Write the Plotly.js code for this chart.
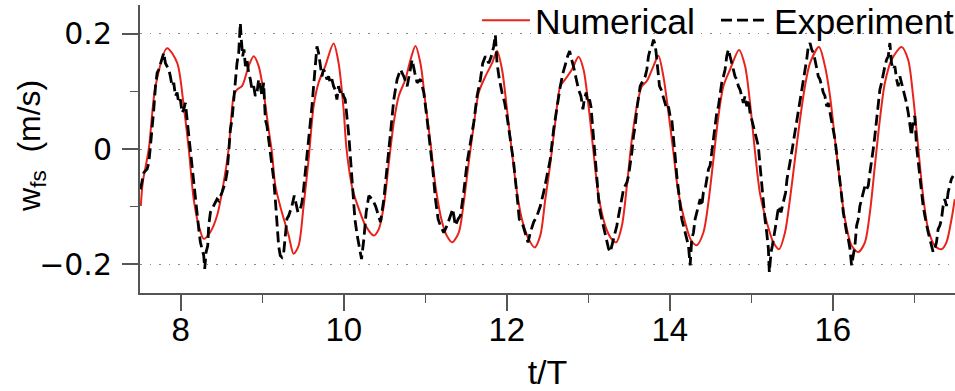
<!DOCTYPE html>
<html>
<head>
<meta charset="utf-8">
<script src="https://cdn.plot.ly/plotly-3.0.1.min.js"></script>
<style>html,body{margin:0;padding:0;background:#fff;}#chart{width:955px;height:391px;}</style>
</head>
<body>
<div id="chart"></div>
<script>
// Numerical solution (red)
const numT = [7.510,7.534,7.608,7.690,7.832,7.955,8.037,8.098,8.159,8.221,
8.282,8.364,8.445,8.527,8.588,8.650,8.690,8.751,8.833,8.895,
8.956,9.017,9.078,9.119,9.161,9.241,9.324,9.385,9.446,9.507,
9.569,9.630,9.691,9.773,9.875,9.936,9.998,10.034,10.108,10.185,
10.267,10.369,10.430,10.491,10.553,10.614,10.675,10.757,10.819,10.880,
10.941,11.002,11.064,11.125,11.207,11.270,11.330,11.411,11.472,11.533,11.594,
11.656,11.738,11.820,11.881,11.942,12.003,12.064,12.125,12.186,12.268,
12.342,12.412,12.473,12.534,12.596,12.657,12.718,12.800,12.881,12.942,
13.004,13.065,13.126,13.208,13.280,13.343,13.413,13.474,13.535,13.596,13.657,
13.719,13.800,13.861,13.922,13.984,14.045,14.105,14.188,14.260,14.332,14.413,
14.474,14.536,14.597,14.658,14.740,14.850,14.924,14.985,15.047,15.108,
15.190,15.271,15.341,15.414,15.475,15.536,15.598,15.659,15.721,15.831,
15.904,15.966,16.027,16.088,16.150,16.232,16.312,16.395,16.456,16.517,
16.578,16.640,16.722,16.844,16.925,16.986,17.047,17.108,17.170,17.252,
17.334,17.395,17.457,17.497];
const numW = [-0.099,-0.058,0.000,0.109,0.175,0.150,0.074,0.000,-0.087,-0.133,
-0.156,-0.144,-0.116,-0.058,0.000,0.092,0.103,0.109,0.144,0.161,
0.144,0.098,0.034,-0.006,-0.064,-0.110,-0.150,-0.182,-0.168,-0.099,
-0.018,0.074,0.115,0.144,0.183,0.150,0.069,0.000,-0.070,-0.104,
-0.133,-0.150,-0.139,-0.099,-0.024,0.046,0.092,0.121,0.155,0.179,
0.149,0.080,0.011,-0.064,-0.127,-0.152,-0.162,-0.145,-0.093,-0.024,0.040,
0.098,0.126,0.149,0.170,0.138,0.069,-0.006,-0.075,-0.122,-0.156,
-0.171,-0.150,-0.087,-0.026,0.048,0.109,0.121,0.138,0.160,0.138,
0.074,-0.006,-0.081,-0.133,-0.155,-0.162,-0.133,-0.064,0.017,0.074,0.109,
0.118,0.144,0.162,0.126,0.063,-0.006,-0.075,-0.127,-0.158,-0.167,-0.145,
-0.093,-0.018,0.057,0.109,0.138,0.172,0.144,0.080,-0.006,-0.078,
-0.127,-0.162,-0.174,-0.145,-0.087,-0.018,0.051,0.109,0.149,0.177,
0.144,0.092,0.017,-0.058,-0.122,-0.168,-0.179,-0.162,-0.110,-0.029,
0.051,0.115,0.155,0.177,0.155,0.092,0.005,-0.081,-0.139,-0.168,
-0.174,-0.162,-0.122,-0.087];

// Experiment (black dashed)
const expT = [7.506,7.547,7.587,7.608,7.628,7.649,7.669,7.690,7.710,7.730,
7.751,7.771,7.792,7.812,7.833,7.853,7.873,7.894,7.914,7.935,
7.955,7.975,7.996,8.016,8.037,8.057,8.078,8.098,8.119,8.139,
8.159,8.180,8.200,8.221,8.241,8.262,8.282,8.294,8.311,8.331,
8.343,8.364,8.384,8.405,8.425,8.445,8.466,8.486,8.507,8.547,
8.568,8.588,8.609,8.629,8.650,8.670,8.690,8.711,8.731,8.743,
8.760,8.776,8.793,8.813,8.833,8.854,8.874,8.895,8.915,8.936,
8.956,8.976,8.997,9.017,9.038,9.058,9.079,9.099,9.119,9.140,
9.160,9.181,9.201,9.221,9.242,9.262,9.283,9.303,9.324,9.364,
9.393,9.413,9.438,9.467,9.487,9.507,9.528,9.548,9.569,9.589,
9.610,9.630,9.650,9.671,9.691,9.712,9.732,9.753,9.773,9.793,
9.814,9.834,9.855,9.875,9.895,9.916,9.936,9.957,9.977,9.998,
10.018,10.063,10.104,10.137,10.165,10.194,10.218,10.247,10.275,10.308,
10.349,10.390,10.431,10.451,10.492,10.533,10.574,10.614,10.655,10.696,
10.737,10.778,10.819,10.839,10.872,10.900,10.941,10.982,11.023,11.064,
11.092,11.125,11.158,11.186,11.227,11.268,11.309,11.337,11.370,11.403,
11.431,11.472,11.513,11.554,11.595,11.636,11.677,11.705,11.738,11.779,
11.811,11.840,11.860,11.881,11.909,11.942,11.975,12.003,12.044,12.085,
12.126,12.154,12.187,12.228,12.261,12.289,12.330,12.371,12.412,12.453,
12.493,12.534,12.575,12.616,12.657,12.690,12.718,12.747,12.771,12.788,
12.812,12.828,12.853,12.882,12.910,12.935,12.951,12.975,12.992,13.016,
13.033,13.057,13.074,13.098,13.127,13.147,13.167,13.188,13.208,13.229,
13.249,13.270,13.290,13.310,13.331,13.351,13.372,13.392,13.413,13.433,
13.453,13.474,13.494,13.515,13.535,13.556,13.576,13.596,13.617,13.637,
13.658,13.678,13.699,13.719,13.739,13.760,13.780,13.801,13.821,13.833,
13.850,13.874,13.895,13.915,13.944,13.964,13.984,14.005,14.025,14.046,
14.066,14.087,14.107,14.127,14.148,14.168,14.189,14.209,14.230,14.250,
14.270,14.291,14.311,14.332,14.352,14.373,14.393,14.413,14.434,14.454,
14.475,14.495,14.516,14.536,14.556,14.577,14.597,14.618,14.638,14.659,
14.679,14.699,14.720,14.740,14.761,14.781,14.801,14.822,14.842,14.863,
14.883,14.903,14.924,14.944,14.965,14.985,15.006,15.026,15.047,15.067,
15.087,15.108,15.128,15.149,15.169,15.190,15.210,15.222,15.243,15.259,
15.284,15.300,15.324,15.341,15.365,15.382,15.406,15.422,15.439,15.455,
15.476,15.496,15.516,15.537,15.557,15.578,15.598,15.619,15.639,15.659,
15.680,15.700,15.721,15.741,15.761,15.782,15.802,15.823,15.843,15.864,
15.884,15.904,15.925,15.945,15.966,15.986,16.007,16.027,16.047,16.068,
16.088,16.109,16.129,16.150,16.170,16.190,16.211,16.231,16.252,16.272,
16.293,16.313,16.333,16.354,16.374,16.395,16.415,16.436,16.456,16.476,
16.497,16.517,16.538,16.558,16.578,16.599,16.619,16.640,16.660,16.681,
16.701,16.721,16.742,16.762,16.783,16.803,16.824,16.844,16.864,16.885,
16.905,16.926,16.946,16.966,16.987,17.007,17.028,17.048,17.069,17.089,
17.109,17.130,17.150,17.171,17.191,17.212,17.232,17.252,17.273,17.293,
17.314,17.334,17.354,17.375,17.395,17.416,17.436,17.456,17.477];
const expW = [-0.070,-0.041,-0.035,-0.024,0.005,0.034,0.069,0.109,0.132,0.138,
0.149,0.155,0.167,0.149,0.144,0.138,0.126,0.109,0.115,0.092,
0.098,0.080,0.086,0.063,0.069,0.080,0.051,0.023,0.000,-0.029,
-0.052,-0.087,-0.116,-0.139,-0.162,-0.173,-0.185,-0.208,-0.179,-0.168,
-0.133,-0.110,-0.104,-0.098,-0.093,-0.087,-0.090,-0.081,-0.075,-0.058,
-0.041,-0.006,0.034,0.051,0.086,0.109,0.149,0.167,0.219,0.190,
0.161,0.173,0.144,0.155,0.132,0.121,0.103,0.109,0.092,0.098,
0.121,0.109,0.092,0.115,0.051,0.040,0.017,-0.006,-0.024,-0.052,
-0.087,-0.127,-0.168,-0.185,-0.188,-0.182,-0.150,-0.121,-0.116,-0.099,
-0.081,-0.093,-0.110,-0.104,-0.093,-0.070,-0.041,-0.018,0.005,0.034,
0.074,0.109,0.149,0.178,0.167,0.149,0.126,0.138,0.132,0.121,
0.126,0.115,0.121,0.109,0.103,0.086,0.109,0.098,0.103,0.092,
0.086,0.022,-0.064,-0.122,-0.150,-0.174,-0.191,-0.156,-0.110,-0.081,
-0.087,-0.099,-0.116,-0.127,-0.087,-0.035,0.028,0.086,0.121,0.138,
0.126,0.109,0.138,0.155,0.132,0.115,0.121,0.098,0.051,0.005,
-0.035,-0.087,-0.122,-0.133,-0.145,-0.133,-0.116,-0.104,-0.133,-0.122,
-0.116,-0.075,-0.024,0.011,0.046,0.092,0.121,0.149,0.161,0.149,
0.161,0.178,0.198,0.149,0.121,0.098,0.080,0.057,0.017,-0.024,
-0.081,-0.122,-0.127,-0.145,-0.162,-0.145,-0.127,-0.116,-0.099,-0.075,
-0.047,-0.018,0.034,0.074,0.109,0.132,0.149,0.161,0.170,0.161,
0.149,0.138,0.121,0.103,0.092,0.069,0.086,0.098,0.080,0.086,
0.074,0.034,-0.006,-0.047,-0.087,-0.110,-0.122,-0.133,-0.150,-0.162,
-0.173,-0.179,-0.168,-0.156,-0.145,-0.133,-0.116,-0.099,-0.081,-0.070,
-0.064,-0.058,-0.047,-0.029,-0.006,0.023,0.040,0.069,0.092,0.109,
0.115,0.121,0.126,0.138,0.161,0.173,0.178,0.190,0.181,0.167,
0.138,0.109,0.103,0.092,0.080,0.069,0.074,0.057,0.051,0.023,
-0.012,-0.047,-0.070,-0.099,-0.122,-0.133,-0.145,-0.156,-0.168,-0.202,
-0.156,-0.145,-0.122,-0.110,-0.099,-0.087,-0.099,-0.075,-0.070,-0.052,
-0.035,-0.029,-0.006,0.017,0.034,0.063,0.074,0.098,0.115,0.126,
0.138,0.161,0.173,0.161,0.149,0.138,0.126,0.121,0.109,0.103,
0.092,0.080,0.092,0.074,0.086,0.063,0.051,0.040,0.028,0.017,
0.005,-0.029,-0.064,-0.099,-0.122,-0.145,-0.173,-0.214,-0.179,-0.168,
-0.150,-0.133,-0.110,-0.099,-0.110,-0.099,-0.087,-0.075,-0.052,-0.041,
-0.023,-0.006,0.011,0.034,0.051,0.069,0.086,0.103,0.121,0.132,
0.155,0.178,0.184,0.173,0.167,0.155,0.138,0.126,0.121,0.109,
0.098,0.092,0.074,0.080,0.063,0.051,0.034,0.017,-0.006,-0.029,
-0.058,-0.081,-0.110,-0.133,-0.145,-0.156,-0.173,-0.202,-0.185,-0.168,
-0.133,-0.122,-0.099,-0.087,-0.075,-0.064,-0.070,-0.064,-0.041,-0.023,
0.000,0.023,0.051,0.080,0.103,0.115,0.132,0.144,0.155,0.161,
0.184,0.149,0.138,0.144,0.121,0.109,0.126,0.115,0.103,0.092,
0.080,0.063,0.040,0.023,0.051,0.057,0.005,-0.023,-0.052,-0.075,
-0.099,-0.116,-0.133,-0.145,-0.156,-0.168,-0.179,-0.173,-0.162,-0.139,
-0.133,-0.122,-0.099,-0.087,-0.099,-0.075,-0.064,-0.052,-0.047];

const xTicks = [8, 10, 12, 14, 16];
const xMinorTicks = [9, 11, 13, 15, 17];
const yTicks = [-0.2, 0, 0.2];
const yTickText = ['\u22120.2', '0', '0.2'];
const yMinorTicks = [-0.1, 0.1];

const axisColor = '#555';
const sans = 'Liberation Sans';

const data = [
  {x: numT, y: numW, type: 'scatter', mode: 'lines', name: 'Numerical',
   line: {color: '#e8231b', width: 2, shape: 'spline', smoothing: 0.8}},
  {x: expT, y: expW, type: 'scatter', mode: 'lines', name: 'Experiment',
   line: {color: '#000', width: 2.8, dash: '11px,5px'}}
];

const layout = {
  width: 955, height: 391,
  margin: {l: 140, r: 0, t: 5, b: 98, autoexpand: false},
  paper_bgcolor: '#fff', plot_bgcolor: '#fff',
  showlegend: true,
  legend: {orientation: 'h', x: 1, xanchor: 'right', y: 1.05, yanchor: 'top',
           font: {family: sans, size: 35.5, color: '#000'}, bgcolor: 'rgba(0,0,0,0)',
           itemwidth: 48, entrywidth: 176, entrywidthmode: 'pixels', borderwidth: 0},
  xaxis: {
    range: [7.5, 17.5], tickmode: 'array', tickvals: xTicks,
    ticks: 'outside', ticklen: 16, tickwidth: 1.5, tickcolor: axisColor,
    showline: true, linecolor: axisColor, linewidth: 2,
    showgrid: false, zeroline: false,
    minor: {tickmode: 'array', tickvals: xMinorTicks, ticks: 'outside', ticklen: 8, tickwidth: 1.5, tickcolor: axisColor, showgrid: false},
    tickfont: {family: sans, size: 33, color: '#000'},
    ticklabelstandoff: -10,
    title: {text: 't/T', font: {family: sans, size: 34, color: '#000'}, standoff: 14}
  },
  yaxis: {
    range: [-0.25, 0.25], tickmode: 'array', tickvals: yTicks, ticktext: yTickText,
    ticks: 'outside', ticklen: 16, tickwidth: 1.5, tickcolor: axisColor,
    showline: true, linecolor: axisColor, linewidth: 2,
    showgrid: true, gridcolor: '#8a8a8a', gridwidth: 1, griddash: '1.5px,8px',
    zeroline: false,
    minor: {tickmode: 'array', tickvals: yMinorTicks, ticks: 'outside', ticklen: 8, tickwidth: 1.5, tickcolor: axisColor, showgrid: false},
    tickfont: {family: 'DejaVu Sans', size: 30, color: '#000'},
    ticklabelstandoff: 4
  },
  annotations: [{
    text: 'w<sub>fs</sub>\u00a0\u00a0(m/s)', xref: 'paper', yref: 'paper',
    x: -0.134, y: 0.51, xanchor: 'center', yanchor: 'middle', textangle: -90,
    showarrow: false, font: {family: sans, size: 32, color: '#000'}
  }]
};

Plotly.newPlot('chart', data, layout, {displayModeBar: false, staticPlot: true});
</script>
</body>
</html>
